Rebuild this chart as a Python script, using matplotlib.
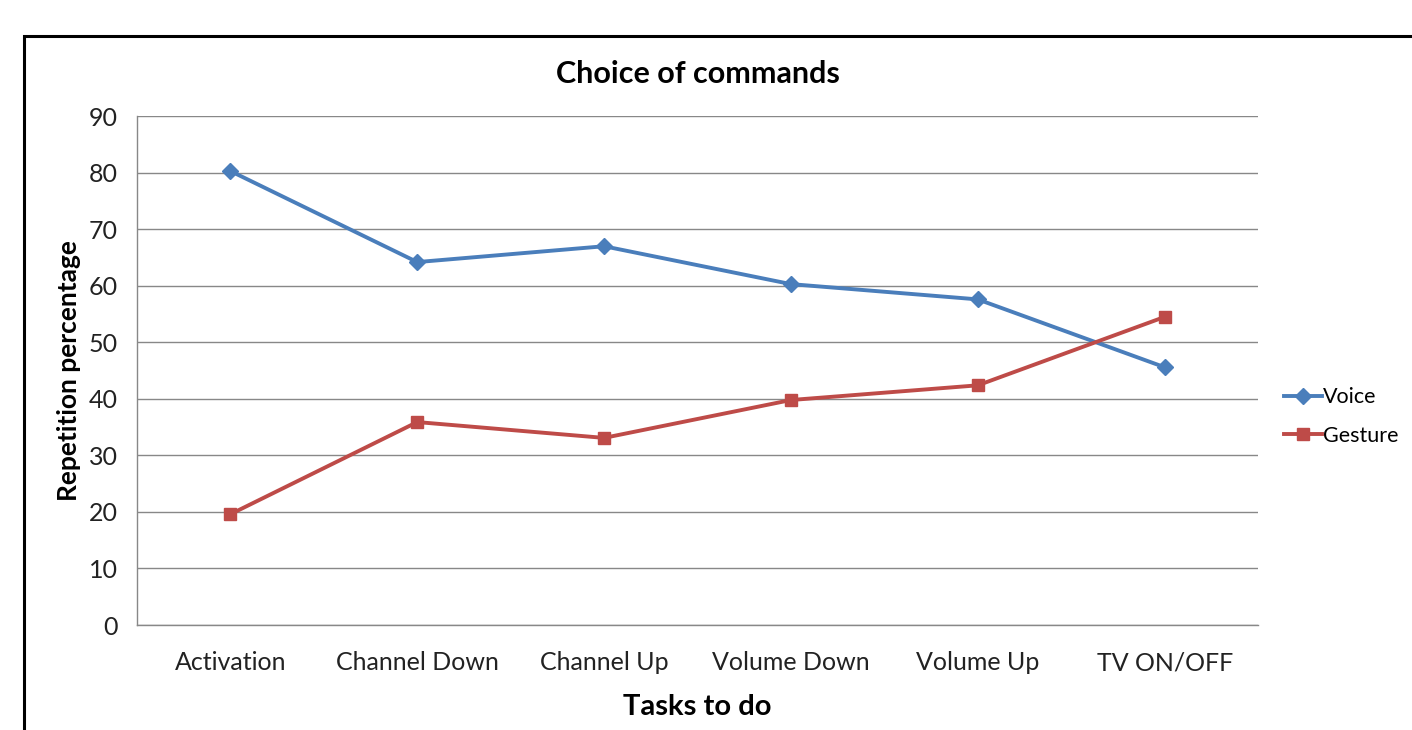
import matplotlib
matplotlib.use('Agg')
import matplotlib.pyplot as plt
from matplotlib.patches import Rectangle

# data
tasks = ['Activation', 'Channel Down', 'Channel Up', 'Volume Down', 'Volume Up', 'TV ON/OFF']
voice = [80.3, 64.2, 67.0, 60.3, 57.6, 45.6]
gesture = [19.6, 35.9, 33.1, 39.8, 42.4, 54.5]

plt.rcParams['font.family'] = ['Lato', 'DejaVu Sans']

fig = plt.figure(figsize=(14.12, 7.30), dpi=100)
ax = fig.add_axes([0.097, 0.1438, 0.794, 0.697])

# outer chart frame (runs off the right and bottom edges)
fig.patches.append(Rectangle((24/1412, -0.1), 1.2, 1.1 - 36/730, transform=fig.transFigure,
                             fill=False, edgecolor='black', linewidth=2.2))

x = list(range(len(tasks)))
ax.plot(x, voice, color='#4a7ebb', linewidth=2.8, marker='D', markersize=8, label='Voice')
ax.plot(x, gesture, color='#be4b48', linewidth=2.8, marker='s', markersize=8, label='Gesture')

ax.set_xlim(-0.5, 5.5)
ax.set_ylim(0, 90)
ax.set_yticks(range(0, 91, 10))
ax.set_xticks(x)
ax.set_xticklabels(tasks)
ax.tick_params(length=0, labelsize=18, colors='#222222')
ax.tick_params(axis='x', pad=19)
ax.tick_params(axis='y', pad=14)
ax.grid(axis='y', color='#888888', linewidth=1)
ax.set_axisbelow(True)
for s in ['top', 'right']:
    ax.spines[s].set_visible(False)
for s in ['left', 'bottom']:
    ax.spines[s].set_color('#888888')
    ax.spines[s].set_linewidth(1)

ax.set_title('Choice of commands', fontsize=22, fontweight='bold', pad=24)
ax.set_xlabel('Tasks to do', fontsize=21, fontweight='bold', labelpad=14)
ax.set_ylabel('Repetition percentage', fontsize=19, fontweight='bold', labelpad=5)

ax.legend(loc='center left', bbox_to_anchor=(1.006, 0.41), frameon=False, fontsize=15.5,
          handlelength=1.75, handletextpad=0.05, labelspacing=0.85)

fig.savefig('out.png', dpi=100)
